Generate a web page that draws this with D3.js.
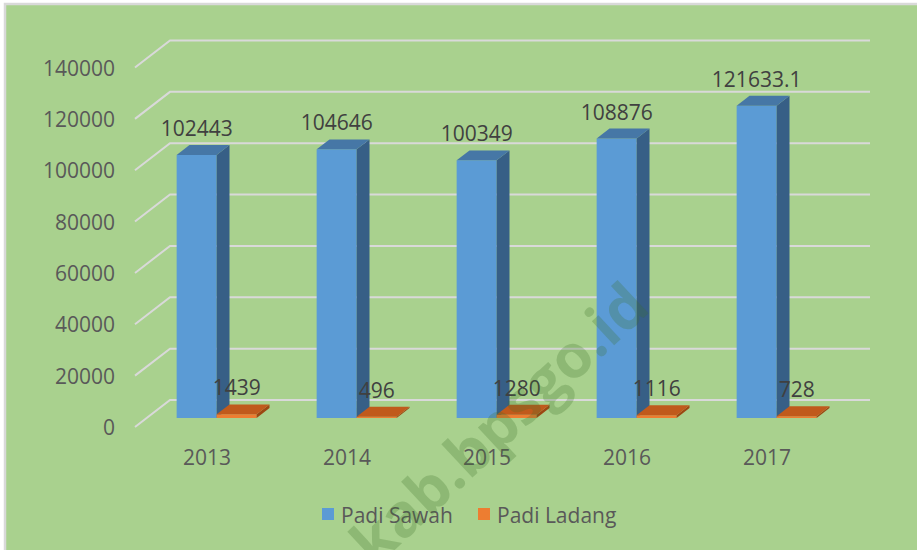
<!DOCTYPE html>
<html>
<head>
<meta charset="utf-8">
<script src="https://cdn.jsdelivr.net/npm/d3@7"></script>
<style>
  html, body { margin: 0; padding: 0; background: #ffffff; }
  svg { display: block; }
</style>
</head>
<body>
<svg id="chart" width="917" height="550"></svg>
<script>
const years = ["2013", "2014", "2015", "2016", "2017"];
const padiSawah = [102443, 104646, 100349, 108876, 121633.1];
const padiLadang = [1439, 496, 1280, 1116, 728];
const seriesNames = ["Padi Sawah", "Padi Ladang"];
const yTicks = [0, 20000, 40000, 60000, 80000, 100000, 120000, 140000];

const svg = d3.select("#chart");
const font = "'Open Sans', 'Liberation Sans', sans-serif";
const textColor = "#595959";
const fs = 21;

// background
svg.append("rect").attr("x", 5).attr("y", 4).attr("width", 1000).attr("height", 1000)
  .attr("fill", "#a9d18e").attr("stroke", "#d9d9d9").attr("stroke-width", 2.5);

// 3D geometry
const floorY = 427, depthX = 35, depthY = -27;
const x = d3.scaleBand().domain(years).range([135, 835]).padding(0);
const xs = d3.scaleBand().domain(seriesNames).range([30, 110]).padding(0);
const h = d3.scaleLinear().domain([0, 140000]).range([0, 359.5]);
const P = (px, v, t) => [px + depthX * t, floorY - h(v) + depthY * t];

// gridlines (left wall + back wall)
const grid = svg.append("g");
yTicks.forEach(v => {
  const a = P(135, v, 0), b = P(135, v, 1), c = P(835, v, 1);
  grid.append("polyline").attr("points", [a, b, c].map(p => p.join(",")).join(" "))
    .attr("fill", "none").attr("stroke", "#d9d9d9").attr("stroke-width", 2);
});

// y tick labels
svg.append("g").selectAll("text").data(yTicks).join("text")
  .attr("x", 115).attr("y", d => P(135, d, 0)[1])
  .attr("text-anchor", "end").attr("dominant-baseline", "central")
  .attr("font-family", font).attr("font-size", fs).attr("fill", textColor)
  .text(d => d);

const styles = {
  "Padi Sawah": { front: "#5b9bd5", top: "#4677a6", side: "#375f86" },
  "Padi Ladang": { front: "#ed7d31", top: "#c05a1c", side: "#9c4712" }
};
const t0 = 0.333, t1 = 0.70;
const bars = [];
years.forEach((yr, i) => {
  bars.push({ yr, s: "Padi Sawah", v: padiSawah[i] });
  bars.push({ yr, s: "Padi Ladang", v: padiLadang[i] });
});
const gb = svg.append("g");
bars.forEach(d => {
  const x0 = x(d.yr) + xs(d.s), x1 = x0 + xs.bandwidth();
  const st = styles[d.s];
  const poly = pts => gb.append("polygon").attr("points", pts.map(p => p.join(",")).join(" "));
  poly([P(x0, 0, t0), P(x1, 0, t0), P(x1, d.v, t0), P(x0, d.v, t0)]).attr("fill", st.front);
  poly([P(x1, 0, t0), P(x1, 0, t1), P(x1, d.v, t1), P(x1, d.v, t0)]).attr("fill", st.side);
  poly([P(x0, d.v, t0), P(x1, d.v, t0), P(x1, d.v, t1), P(x0, d.v, t1)]).attr("fill", st.top);
});

// data labels
svg.append("g").selectAll("text").data(bars).join("text")
  .attr("x", d => P(x(d.yr) + xs(d.s) + xs.bandwidth() / 2, d.v, t0)[0])
  .attr("y", d => P(0, d.v, t1)[1] - 9)
  .attr("text-anchor", "middle")
  .attr("font-family", font).attr("font-size", fs).attr("fill", "#404040")
  .text(d => String(d.v));

// category labels
svg.append("g").selectAll("text").data(years).join("text")
  .attr("x", d => x(d) + x.bandwidth() / 2 + 2).attr("y", 457)
  .attr("text-anchor", "middle").attr("dominant-baseline", "central")
  .attr("font-family", font).attr("font-size", fs).attr("fill", textColor)
  .text(d => d);

// legend
const legend = [{ n: "Padi Sawah", sx: 322 }, { n: "Padi Ladang", sx: 478 }];
const lg = svg.append("g");
legend.forEach(l => {
  lg.append("rect").attr("x", l.sx).attr("y", 508).attr("width", 12).attr("height", 12)
    .attr("fill", styles[l.n].front);
  lg.append("text").attr("x", l.sx + 19).attr("y", 515).attr("dominant-baseline", "central")
    .attr("font-family", font).attr("font-size", fs).attr("fill", textColor).text(l.n);
});

// watermark
svg.append("text").attr("transform", "translate(652,310) rotate(-43)")
  .attr("text-anchor", "end").attr("font-family", font).attr("font-weight", "bold")
  .attr("font-size", 60).attr("fill", "rgba(60,110,40,0.25)")
  .text("kab.bpsgo.id");
</script>
</body>
</html>
